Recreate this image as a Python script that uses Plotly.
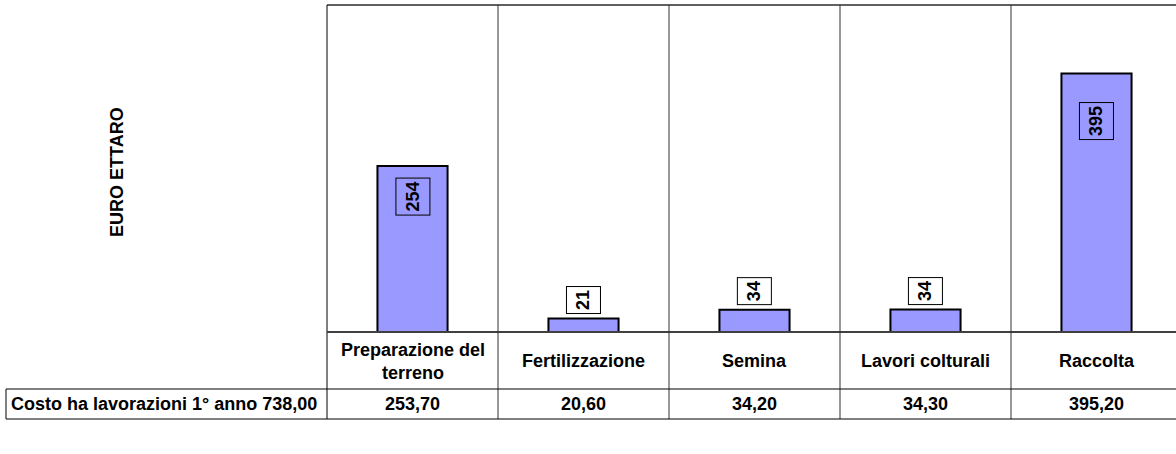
import plotly.graph_objects as go

# Costi delle lavorazioni per ettaro (euro), primo anno
categorie = ["Preparazione del terreno", "Fertilizzazione", "Semina",
             "Lavori colturali", "Raccolta"]
etichette_tabella = ["Preparazione del<br>terreno", "Fertilizzazione", "Semina",
                     "Lavori colturali", "Raccolta"]
costi = [253.70, 20.60, 34.20, 34.30, 395.20]
titolo_riga = "Costo ha lavorazioni 1° anno"
titolo_asse = "EURO ETTARO"

# label placement per bar: inside the bar top or just above it
posizione_etichetta = ["inside", "outside", "outside", "outside", "inside"]
scarto_etichetta = [-12, 4, 4, 4, -29]

FONT = "Liberation Sans, Arial, sans-serif"
FS = 18
W, H = 1176, 454
L, T, B = 327, 5, 122
plot_h = H - T - B
plot_w = W - L


def py(pix):
    """pixel row -> paper y"""
    return (H - B - pix) / plot_h


def px(pix):
    """pixel column -> paper x"""
    return (pix - L) / plot_w


def it(v):
    return f"{v:.2f}".replace(".", ",")


fig = go.Figure()
fig.add_trace(go.Bar(
    x=categorie, y=costi, width=0.41,
    marker=dict(color="#9999FF", line=dict(color="#000000", width=2)),
    hoverinfo="skip",
))

fig.update_layout(
    width=W, height=H,
    margin=dict(l=L, r=0, t=T, b=B, autoexpand=False),
    paper_bgcolor="white", plot_bgcolor="white",
    showlegend=False,
    font=dict(family=FONT, size=FS, color="black"),
    xaxis=dict(range=[-0.5, -0.5 + plot_w / 171.0], showticklabels=False,
               showgrid=False, zeroline=False, showline=False, ticks=""),
    yaxis=dict(range=[0, 500], showticklabels=False, showgrid=False,
               zeroline=False, showline=False, ticks=""),
)

shapes = []
line_dark = dict(color="#000000", width=1)
# plot frame: top and left borders
shapes.append(dict(type="line", xref="paper", yref="paper", x0=0, x1=1, y0=1, y1=1,
                   line=dict(color="#606060", width=2)))
shapes.append(dict(type="line", xref="paper", yref="paper", x0=0, x1=0, y0=1, y1=py(419),
                   line=line_dark))
# category axis line
shapes.append(dict(type="line", xref="paper", yref="paper", x0=0, x1=1, y0=0, y1=0,
                   line=dict(color="#404040", width=2)))
# column dividers through chart and table
for i in range(len(categorie) - 1):
    shapes.append(dict(type="line", xref="x", yref="paper", x0=i + 0.5, x1=i + 0.5,
                       y0=1, y1=py(419), line=dict(color="#303030", width=1)))
# data table rows
shapes.append(dict(type="line", xref="paper", yref="paper", x0=px(6), x1=1,
                   y0=py(389), y1=py(389), line=line_dark))
shapes.append(dict(type="line", xref="paper", yref="paper", x0=px(6), x1=1,
                   y0=py(419), y1=py(419), line=line_dark))
shapes.append(dict(type="line", xref="paper", yref="paper", x0=px(6), x1=px(6),
                   y0=py(389), y1=py(419), line=line_dark))
fig.update_layout(shapes=shapes)

ann = []
# value labels on bars
for c, v, pos, dy in zip(categorie, costi, posizione_etichetta, scarto_etichetta):
    ann.append(dict(
        x=c, y=v, xref="x", yref="y", text=f"<b>{round(v)}</b>", textangle=-90,
        showarrow=False, yanchor="top" if pos == "inside" else "bottom",
        yshift=dy, bordercolor="#000000", borderwidth=1, borderpad=3,
        height=27,
        bgcolor="rgba(0,0,0,0)" if pos == "inside" else "white",
        font=dict(size=FS, family=FONT, color="black"),
    ))
# table header and value rows
for c, lab, v in zip(categorie, etichette_tabella, costi):
    ann.append(dict(x=c, y=py(361), xref="x", yref="paper", text=f"<b>{lab}</b>",
                    showarrow=False, yanchor="middle", align="center"))
    ann.append(dict(x=c, y=py(404), xref="x", yref="paper", text=f"<b>{it(v)}</b>",
                    showarrow=False, yanchor="middle"))
ann.append(dict(x=px(9), y=py(404), xref="paper", yref="paper",
                text=f"<b>{titolo_riga} {it(sum(costi))}</b>",
                showarrow=False, xanchor="left", yanchor="middle"))
# axis title
ann.append(dict(x=px(117), y=py(172), xref="paper", yref="paper",
                text=f"<b>{titolo_asse}</b>", textangle=-90, showarrow=False,
                xanchor="center", yanchor="middle"))
fig.update_layout(annotations=ann)

fig.write_html("out.html")
